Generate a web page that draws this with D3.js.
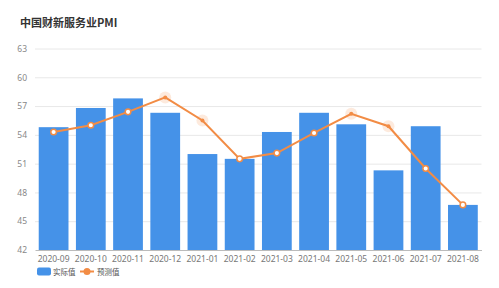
<!DOCTYPE html>
<html><head><meta charset="utf-8">
<script src="https://cdn.jsdelivr.net/npm/d3@7/dist/d3.min.js"></script>
<style>body{margin:0;background:#fff;}svg{display:block;font-family:"Noto Sans CJK SC","Noto Sans",sans-serif;}</style>
</head><body><svg id="c" width="499" height="288"></svg>
<script>
const categories = ["2020-09","2020-10","2020-11","2020-12","2021-01","2021-02","2021-03","2021-04","2021-05","2021-06","2021-07","2021-08"];
const actual = [54.8,56.8,57.8,56.3,52.0,51.5,54.3,56.3,55.1,50.3,54.9,46.7];
const forecast = [54.3,55.0,56.4,57.9,55.5,51.5,52.1,54.2,56.2,54.9,50.5,46.7];
const highlighted = [3,4,8,9];
const yTicks = [42,45,48,51,54,57,60,63];
const title = "中国财新服务业PMI";
const seriesNames = ["实际值","预测值"];

const svg = d3.select("#c");
const barColor = "#4592e8", lineColor = "#f28c45";
const x = d3.scaleBand().domain(categories).range([35,481.5]).paddingInner(0.2).paddingOuter(0.1);
const y = d3.scaleLinear().domain([42,63]).range([250,48.5]);

svg.append("text").attr("x",20).attr("y",27).attr("font-size",11).attr("font-weight","bold").attr("fill","#333").text(title);

// grid
svg.append("g").selectAll("line").data(yTicks.slice(1)).join("line")
  .attr("x1",35).attr("x2",481.5).attr("y1",d=>y(d)+0.5).attr("y2",d=>y(d)+0.5)
  .attr("stroke","#e8e8e8").attr("stroke-width",1);
const ya = svg.append("g").attr("transform","translate(35,0)")
  .call(d3.axisLeft(y).tickValues(yTicks).tickSize(0).tickPadding(8));
ya.select(".domain").remove();
ya.selectAll("text").attr("font-size",8.5).attr("fill","#888").attr("font-family","'Noto Sans',sans-serif");

// bars
svg.append("g").selectAll("rect").data(actual).join("rect")
  .attr("x",(d,i)=>x(categories[i])).attr("width",x.bandwidth())
  .attr("y",d=>y(d)).attr("height",d=>y(42)-y(d)).attr("fill",barColor);

// x axis
const xa = svg.append("g").attr("transform","translate(0,250)")
  .call(d3.axisBottom(x).tickSize(0).tickPadding(6));
xa.select(".domain").attr("stroke","#bbb");
xa.selectAll("text").attr("font-size",8.5).attr("fill","#777").attr("font-family","'Noto Sans',sans-serif");

// line
const cx = i => x(categories[i]) + x.bandwidth()/2;
svg.append("path").datum(forecast)
  .attr("d", d3.line().x((d,i)=>cx(i)).y(d=>y(d)))
  .attr("fill","none").attr("stroke",lineColor).attr("stroke-width",2);
const pts = svg.append("g");
forecast.forEach((d,i)=>{
  if (highlighted.includes(i)) {
    pts.append("circle").attr("cx",cx(i)).attr("cy",y(d)).attr("r",6).attr("fill",lineColor).attr("opacity",0.18);
    pts.append("circle").attr("cx",cx(i)).attr("cy",y(d)).attr("r",2).attr("fill",lineColor);
  } else {
    pts.append("circle").attr("cx",cx(i)).attr("cy",y(d)).attr("r",2.8).attr("fill","#fff").attr("stroke",lineColor).attr("stroke-width",1.5);
  }
});

// legend
const lg = svg.append("g");
lg.append("rect").attr("x",37).attr("y",267.5).attr("width",14).attr("height",8).attr("rx",2).attr("fill",barColor);
lg.append("text").attr("x",53).attr("y",274.5).attr("font-size",7.5).attr("fill","#555").text(seriesNames[0]);
lg.append("line").attr("x1",80).attr("x2",94).attr("y1",271.5).attr("y2",271.5).attr("stroke",lineColor).attr("stroke-width",2);
lg.append("circle").attr("cx",87).attr("cy",271.5).attr("r",3.5).attr("fill",lineColor);
lg.append("text").attr("x",97).attr("y",274.5).attr("font-size",7.5).attr("fill","#555").text(seriesNames[1]);
</script></body></html>
